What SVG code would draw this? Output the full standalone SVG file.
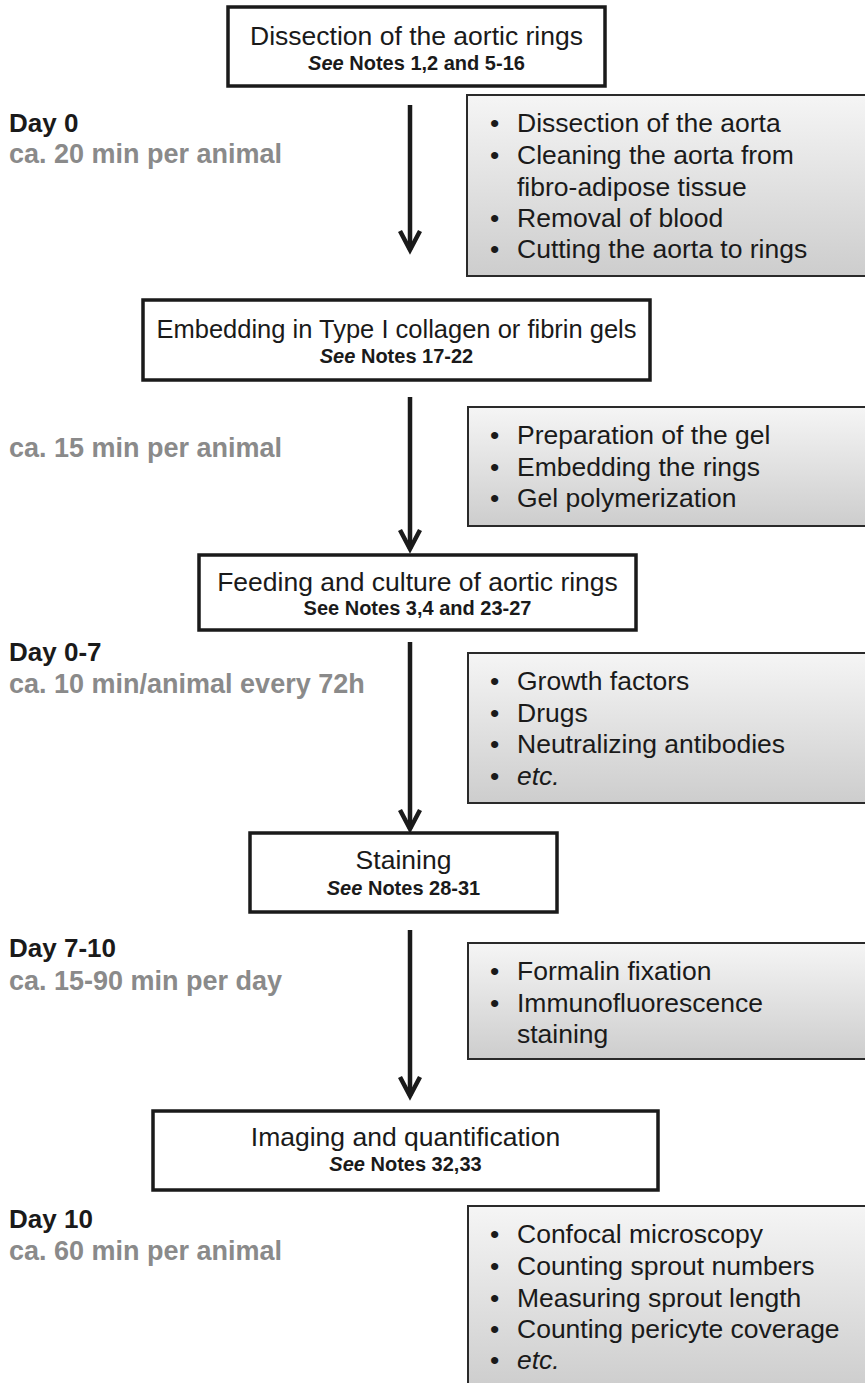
<svg xmlns="http://www.w3.org/2000/svg" width="865" height="1383" viewBox="0 0 865 1383">
<style>
text{font-family:"Liberation Sans",Arial,sans-serif}
.step{fill:#fff;stroke:#1a1a1a;stroke-width:3.5}
.title{font-size:26.5px;fill:#1a1a1a;text-anchor:middle}
.note{font-size:20px;font-weight:bold;fill:#1a1a1a;text-anchor:middle}
.grey{fill:url(#gr);stroke:#2a2a2a;stroke-width:2}
.bul{font-size:26.5px;fill:#1a1a1a}
.day{font-size:26px;font-weight:bold;fill:#1a1a1a}
.time{font-size:27px;font-weight:bold;fill:#8a8a8a}
.arr{stroke:#1a1a1a;stroke-width:4.5;fill:none}
.head{stroke:#1a1a1a;stroke-width:4.5;fill:none;stroke-linejoin:miter}
</style>
<defs>
<linearGradient id="gr" x1="0" y1="0" x2="0" y2="1">
<stop offset="0" stop-color="#f5f5f5"/>
<stop offset="1" stop-color="#cdcdcd"/>
</linearGradient>
<linearGradient id="gr5" gradientUnits="userSpaceOnUse" x1="0" y1="1206" x2="0" y2="1390">
<stop offset="0" stop-color="#f5f5f5"/>
<stop offset="1" stop-color="#cdcdcd"/>
</linearGradient>
</defs>

<g id="connectors">
<line class="arr" x1="410" y1="105" x2="410" y2="250"/>
<polyline class="head" points="400,231 410,250 420,231"/>
<line class="arr" x1="410" y1="397" x2="410" y2="549"/>
<polyline class="head" points="400,530 410,549 420,530"/>
<line class="arr" x1="410" y1="642" x2="410" y2="829"/>
<polyline class="head" points="400,810 410,829 420,810"/>
<line class="arr" x1="410" y1="930" x2="410" y2="1096"/>
<polyline class="head" points="400,1077 410,1096 420,1077"/>
</g>

<g id="step1">
<rect class="step" x="228" y="7" width="377" height="79"/>
<text class="title" x="416.5" y="45">Dissection of the aortic rings</text>
<text class="note" x="416.5" y="70"><tspan font-style="italic">See</tspan> Notes 1,2 and 5-16</text>
</g>
<g id="step2">
<rect class="step" x="143" y="300" width="507" height="80"/>
<text class="title" x="396.5" y="338" style="font-size:25.5px">Embedding in Type I collagen or fibrin gels</text>
<text class="note" x="396.5" y="363"><tspan font-style="italic">See</tspan> Notes 17-22</text>
</g>
<g id="step3">
<rect class="step" x="199" y="555" width="437" height="75"/>
<text class="title" x="417.5" y="591">Feeding and culture of aortic rings</text>
<text class="note" x="417.5" y="615">See Notes 3,4 and 23-27</text>
</g>
<g id="step4">
<rect class="step" x="250" y="833" width="307" height="79"/>
<text class="title" x="403.5" y="869">Staining</text>
<text class="note" x="403.5" y="895"><tspan font-style="italic">See</tspan> Notes 28-31</text>
</g>
<g id="step5">
<rect class="step" x="153" y="1111" width="505" height="79"/>
<text class="title" x="405.5" y="1146">Imaging and quantification</text>
<text class="note" x="405.5" y="1171"><tspan font-style="italic">See</tspan> Notes 32,33</text>
</g>

<g id="details1">
<rect class="grey" x="467" y="95" width="402" height="181"/>
<text class="bul" x="490" y="132">•</text><text class="bul" x="517" y="132">Dissection of the aorta</text>
<text class="bul" x="490" y="164">•</text><text class="bul" x="517" y="164">Cleaning the aorta from</text>
<text class="bul" x="517" y="196">fibro-adipose tissue</text>
<text class="bul" x="490" y="227">•</text><text class="bul" x="517" y="227">Removal of blood</text>
<text class="bul" x="490" y="258">•</text><text class="bul" x="517" y="258">Cutting the aorta to rings</text>
</g>
<g id="details2">
<rect class="grey" x="468" y="407" width="401" height="119"/>
<text class="bul" x="490" y="444">•</text><text class="bul" x="517" y="444">Preparation of the gel</text>
<text class="bul" x="490" y="476">•</text><text class="bul" x="517" y="476">Embedding the rings</text>
<text class="bul" x="490" y="507">•</text><text class="bul" x="517" y="507">Gel polymerization</text>
</g>
<g id="details3">
<rect class="grey" x="468" y="653" width="401" height="150"/>
<text class="bul" x="490" y="690">•</text><text class="bul" x="517" y="690">Growth factors</text>
<text class="bul" x="490" y="722">•</text><text class="bul" x="517" y="722">Drugs</text>
<text class="bul" x="490" y="753">•</text><text class="bul" x="517" y="753">Neutralizing antibodies</text>
<text class="bul" x="490" y="785">•</text><text class="bul" x="517" y="785" font-style="italic">etc.</text>
</g>
<g id="details4">
<rect class="grey" x="468" y="943" width="401" height="116"/>
<text class="bul" x="490" y="980">•</text><text class="bul" x="517" y="980">Formalin fixation</text>
<text class="bul" x="490" y="1012">•</text><text class="bul" x="517" y="1012">Immunofluorescence</text>
<text class="bul" x="517" y="1043">staining</text>
</g>
<g id="details5">
<rect x="468" y="1206" width="401" height="190" fill="url(#gr5)" stroke="#2a2a2a" stroke-width="2"/>
<text class="bul" x="490" y="1243">•</text><text class="bul" x="517" y="1243">Confocal microscopy</text>
<text class="bul" x="490" y="1275">•</text><text class="bul" x="517" y="1275">Counting sprout numbers</text>
<text class="bul" x="490" y="1307">•</text><text class="bul" x="517" y="1307">Measuring sprout length</text>
<text class="bul" x="490" y="1338">•</text><text class="bul" x="517" y="1338">Counting pericyte coverage</text>
<text class="bul" x="490" y="1369">•</text><text class="bul" x="517" y="1369" font-style="italic">etc.</text>
</g>

<g id="timing">
<text class="day" x="9" y="132">Day 0</text>
<text class="time" x="9" y="163">ca. 20 min per animal</text>
<text class="time" x="9" y="457">ca. 15 min per animal</text>
<text class="day" x="9" y="661">Day 0-7</text>
<text class="time" x="9" y="693">ca. 10 min/animal every 72h</text>
<text class="day" x="9" y="957">Day 7-10</text>
<text class="time" x="9" y="990">ca. 15-90 min per day</text>
<text class="day" x="9" y="1228">Day 10</text>
<text class="time" x="9" y="1260">ca. 60 min per animal</text>
</g>
</svg>
